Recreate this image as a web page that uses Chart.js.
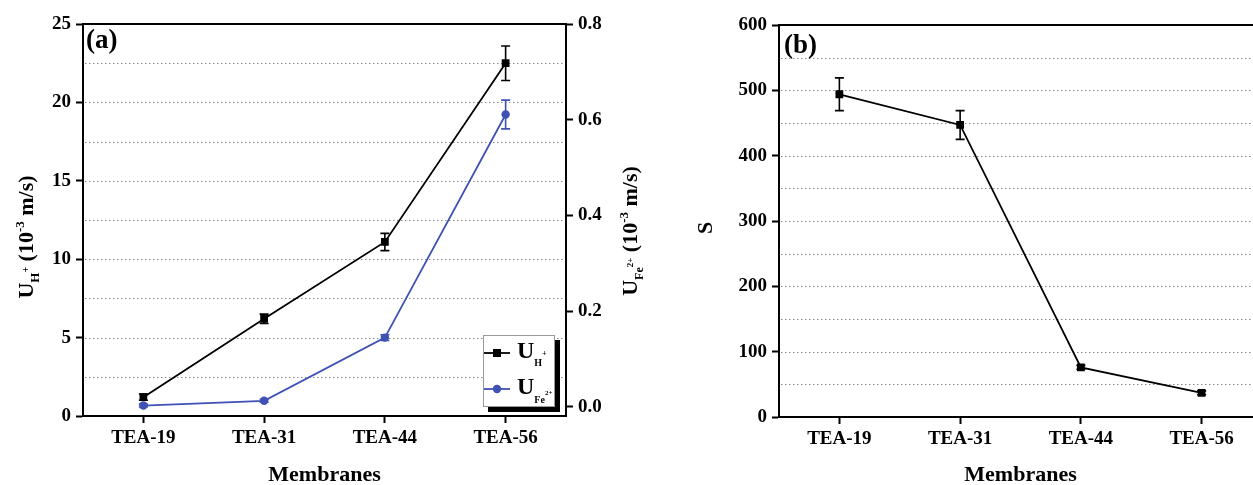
<!DOCTYPE html>
<html lang="en">
<head>
    <meta charset="UTF-8">
    <title>Membranes - U and S</title>
    <style>
        body {
            margin: 0;
            padding: 0;
            width: 1253px;
            height: 485px;
            overflow: hidden;
            background: #fff;
            position: relative;
        }
        .panel {
            position: absolute;
            top: 0;
            height: 485px;
        }
        #panelA { left: 0; width: 650px; }
        #panelB { left: 640px; width: 640px; }
    </style>
</head>
<body>
    <div class="panel" id="panelA"><canvas id="chartA"></canvas></div>
    <div class="panel" id="panelB"><canvas id="chartB"></canvas></div>

    <script src="https://cdn.jsdelivr.net/npm/chart.js"></script>
    <script>
        // data
        const membranes = ['TEA-19', 'TEA-31', 'TEA-44', 'TEA-56'];
        const uH = [1.2, 6.2, 11.1, 22.5];
        const uHErr = [0.2, 0.3, 0.55, 1.1];
        const uFe = [0.003, 0.013, 0.145, 0.611];
        const uFeErr = [0.003, 0.003, 0.006, 0.03];
        const selectivity = [494, 447, 76, 37];
        const selectivityErr = [25, 22, 3, 3];

        // ticks and dotted grid
        const leftTicks = [0, 5, 10, 15, 20, 25];
        const rightTicks = [0, 0.2, 0.4, 0.6, 0.8];
        const gridA = [2.5, 5, 7.5, 10, 12.5, 15, 17.5, 20, 22.5];
        const sTicks = [0, 100, 200, 300, 400, 500, 600];
        const gridB = [50, 100, 150, 200, 250, 300, 350, 400, 450, 500, 550];

        const FONT = '"Liberation Serif", "Times New Roman", serif';
        const BLUE = '#3f51b5';

        function richText(ctx, x, y, parts, rotate, align) {
            // parts: [text, size, dy]
            ctx.save();
            ctx.translate(x, y);
            if (rotate) ctx.rotate(-Math.PI / 2);
            let total = 0;
            parts.forEach(p => {
                ctx.font = 'bold ' + p[1] + 'px ' + FONT;
                p.w = ctx.measureText(p[0]).width;
                total += p.w;
            });
            let cx = align === 'left' ? 0 : -total / 2;
            ctx.fillStyle = '#000';
            ctx.textBaseline = 'alphabetic';
            ctx.textAlign = 'left';
            parts.forEach(p => {
                ctx.font = 'bold ' + p[1] + 'px ' + FONT;
                ctx.fillText(p[0], cx, p[2]);
                cx += p.w;
            });
            ctx.restore();
        }

        // dotted grid + top frame line
        const frame = {
            id: 'frame',
            beforeDatasetsDraw(chart, args, opts) {
                const {ctx, chartArea} = chart;
                const y = chart.scales.y;
                ctx.save();
                ctx.strokeStyle = '#8a8a8a';
                ctx.lineWidth = 1;
                ctx.setLineDash([1.5, 2.5]);
                opts.lines.forEach(v => {
                    const py = Math.round(y.getPixelForValue(v)) + 0.5;
                    ctx.beginPath();
                    ctx.moveTo(chartArea.left + 2, py);
                    ctx.lineTo(chartArea.right - 2, py);
                    ctx.stroke();
                });
                ctx.setLineDash([]);
                ctx.strokeStyle = '#000';
                ctx.lineWidth = 2;
                ctx.beginPath();
                ctx.moveTo(chartArea.left, chartArea.top);
                ctx.lineTo(chartArea.right + 1, chartArea.top);
                ctx.stroke();
                ctx.restore();
            }
        };

        const errorBars = {
            id: 'errorBars',
            afterDatasetsDraw(chart) {
                const ctx = chart.ctx;
                chart.data.datasets.forEach((ds, i) => {
                    if (!ds.errors) return;
                    const meta = chart.getDatasetMeta(i);
                    const ys = chart.scales[ds.yAxisID || 'y'];
                    ctx.save();
                    ctx.strokeStyle = ds.borderColor;
                    ctx.lineWidth = 1.6;
                    meta.data.forEach((pt, j) => {
                        const y1 = ys.getPixelForValue(ds.data[j] + ds.errors[j]);
                        const y2 = ys.getPixelForValue(ds.data[j] - ds.errors[j]);
                        ctx.beginPath();
                        ctx.moveTo(pt.x, y1); ctx.lineTo(pt.x, y2);
                        ctx.moveTo(pt.x - 4.5, y1); ctx.lineTo(pt.x + 4.5, y1);
                        ctx.moveTo(pt.x - 4.5, y2); ctx.lineTo(pt.x + 4.5, y2);
                        ctx.stroke();
                    });
                    ctx.restore();
                });
            }
        };

        // titles, panel letters, legend box
        const labels = {
            id: 'labels',
            afterDraw(chart, args, opts) {
                opts.draw(chart.ctx, chart.chartArea);
            }
        };

        function xAxis() {
            return {
                type: 'category',
                offset: true,
                grid: { offset: false, drawOnChartArea: false, tickLength: 7, tickWidth: 2, tickColor: '#000' },
                border: { color: '#000', width: 2 },
                ticks: { color: '#000', padding: 4, font: { family: FONT, size: 19, weight: 'bold' } }
            };
        }

        function yAxis(min, max, ticks, width, position, fmt) {
            return {
                type: 'linear',
                position: position,
                min: min,
                max: max,
                afterBuildTicks: axis => { axis.ticks = ticks.map(v => ({ value: v })); },
                afterFit: scale => { scale.width = width; },
                grid: { drawOnChartArea: false, tickLength: 7, tickWidth: 2, tickColor: '#000' },
                border: { color: '#000', width: 2 },
                ticks: {
                    color: '#000',
                    padding: 5,
                    font: { family: FONT, size: 19, weight: 'bold' },
                    callback: fmt || (v => v)
                }
            };
        }

        const xA = xAxis();
        xA.afterFit = s => { s.height = 69; };

        new Chart(document.getElementById('chartA'), {
            type: 'line',
            data: {
                labels: membranes,
                datasets: [{
                    label: 'U H+',
                    data: uH,
                    errors: uHErr,
                    yAxisID: 'y',
                    borderColor: '#000',
                    backgroundColor: '#000',
                    borderWidth: 1.8,
                    pointStyle: 'rect',
                    pointRadius: 5.5,
                    pointBorderWidth: 0
                }, {
                    label: 'U Fe2+',
                    data: uFe,
                    errors: uFeErr,
                    yAxisID: 'y2',
                    borderColor: BLUE,
                    backgroundColor: BLUE,
                    borderWidth: 1.8,
                    pointStyle: 'circle',
                    pointRadius: 4.2,
                    pointBorderWidth: 0
                }]
            },
            options: {
                responsive: true,
                maintainAspectRatio: false,
                animation: false,
                layout: { padding: { top: 24, left: 0, right: 0, bottom: 0 } },
                scales: {
                    x: xA,
                    y: yAxis(0, 25, leftTicks, 83, 'left'),
                    y2: yAxis(-0.0188, 0.8, rightTicks, 84, 'right', v => v.toFixed(1))
                },
                plugins: {
                    legend: { display: false },
                    tooltip: { enabled: false },
                    frame: { lines: gridA },
                    labels: {
                        draw(ctx, ca) {
                            richText(ctx, 86, 48, [['(a)', 27, 0]], false, 'left');
                            richText(ctx, 33, 237, [['U', 22, 0], ['H', 13, 6], ['+', 10, -4], [' (10', 22, 0], ['-3', 13, -9], [' m/s)', 22, 0]], true);
                            richText(ctx, 637, 231, [['U', 22, 0], ['Fe', 12, 6], ['2+', 9, -4], [' (10', 22, 0], ['-3', 13, -9], [' m/s)', 22, 0]], true);
                            richText(ctx, (ca.left + ca.right) / 2, 481, [['Membranes', 22, 0]], false);

                            // legend box with shadow
                            ctx.save();
                            ctx.fillStyle = '#000';
                            ctx.fillRect(488, 340, 72, 72);
                            ctx.fillStyle = '#fff';
                            ctx.fillRect(483, 335, 72, 72);
                            ctx.strokeStyle = '#9a9a9a';
                            ctx.lineWidth = 1;
                            ctx.strokeRect(483.5, 335.5, 71, 71);
                            ctx.beginPath();
                            ctx.rect(484, 336, 70, 70);
                            ctx.clip();
                            ctx.lineWidth = 1.8;
                            ctx.strokeStyle = '#000';
                            ctx.beginPath(); ctx.moveTo(484, 353); ctx.lineTo(510, 353); ctx.stroke();
                            ctx.fillStyle = '#000';
                            ctx.fillRect(493, 349, 8, 8);
                            ctx.strokeStyle = BLUE;
                            ctx.beginPath(); ctx.moveTo(484, 389); ctx.lineTo(510, 389); ctx.stroke();
                            ctx.fillStyle = BLUE;
                            ctx.beginPath(); ctx.arc(497, 389, 4.2, 0, Math.PI * 2); ctx.fill();
                            richText(ctx, 517, 358, [['U', 24, 0], ['H', 10, 8], ['+', 8, -2]], false, 'left');
                            richText(ctx, 517, 394, [['U', 24, 0], ['Fe', 10, 9], ['2+', 7, 1]], false, 'left');
                            ctx.restore();
                        }
                    }
                }
            },
            plugins: [frame, errorBars, labels]
        });

        const xB = xAxis();
        xB.afterFit = s => { s.height = 68; };

        new Chart(document.getElementById('chartB'), {
            type: 'line',
            data: {
                labels: membranes,
                datasets: [{
                    label: 'S',
                    data: selectivity,
                    errors: selectivityErr,
                    yAxisID: 'y',
                    borderColor: '#000',
                    backgroundColor: '#000',
                    borderWidth: 1.8,
                    pointStyle: 'rect',
                    pointRadius: 5.5,
                    pointBorderWidth: 0
                }]
            },
            options: {
                responsive: true,
                maintainAspectRatio: false,
                animation: false,
                layout: { padding: { top: 25, left: 0, right: 18, bottom: 0 } },
                scales: {
                    x: xB,
                    y: yAxis(0, 600, sTicks, 139, 'left')
                },
                plugins: {
                    legend: { display: false },
                    tooltip: { enabled: false },
                    frame: { lines: gridB },
                    labels: {
                        draw(ctx, ca) {
                            richText(ctx, 144, 53, [['(b)', 27, 0]], false, 'left');
                            richText(ctx, 72, 228, [['S', 22, 0]], true);
                            richText(ctx, (ca.left + ca.right) / 2, 481, [['Membranes', 22, 0]], false);
                        }
                    }
                }
            },
            plugins: [frame, errorBars, labels]
        });
    </script>
</body>
</html>
